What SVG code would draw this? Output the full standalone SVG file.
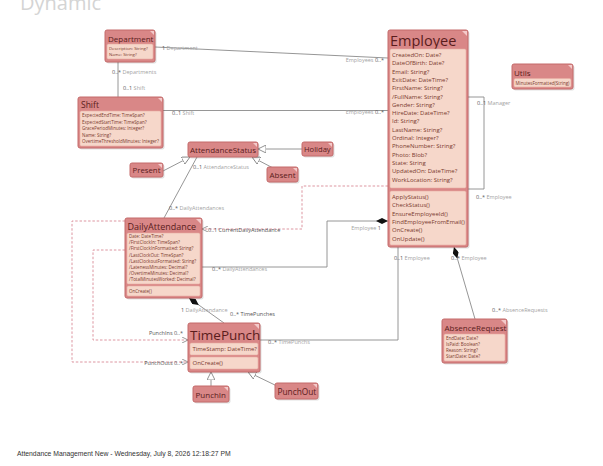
<svg xmlns="http://www.w3.org/2000/svg" width="603" height="466" viewBox="0 0 603 466">
<defs>
<style>
text{font-family:"Open Sans","Noto Sans",sans-serif}
.box{fill:#d98787;stroke:#c46a6a;stroke-width:1}
.sh{fill:#000;opacity:0.12}
.cmp{fill:#f6d7ca;stroke:#e9ada2;stroke-width:0.6}
.fold{fill:#f4caca}
.ttl{fill:#5a1c1c}
.at{fill:#7a3a2e}
.ln{fill:none;stroke:#8a8a8a;stroke-width:0.9}
.dl{fill:none;stroke:#d98a96;stroke-width:0.9;stroke-dasharray:2.5 1.8}
.lbl{font-size:5.5px;fill:#a3a3a3}
.mul{fill:#555}
.dk{font-size:5.5px;fill:#555}
</style>
<marker id="dia" viewBox="0 0 12 6" refX="12" refY="3" markerWidth="12" markerHeight="6" markerUnits="userSpaceOnUse" orient="auto"><path d="M0,3 L6,0 L12,3 L6,6 Z" fill="#111"/></marker>
<marker id="open" viewBox="0 0 8 8" refX="8" refY="4" markerWidth="6" markerHeight="6" markerUnits="userSpaceOnUse" orient="auto"><path d="M0,0 L8,4 L0,8" fill="none" stroke="#777" stroke-width="1"/></marker>
<marker id="tri" viewBox="0 0 10 10" refX="10" refY="5" markerWidth="8" markerHeight="8" markerUnits="userSpaceOnUse" orient="auto"><path d="M0,0 L10,5 L0,10 Z" fill="#fff" stroke="#777" stroke-width="1"/></marker>
</defs>
<rect width="603" height="466" fill="#fff"/>
<text x="20" y="10" font-size="20" fill="#d4d4d4">Dynamic</text>

<g id="connectors">
<path class="ln" d="M155,47 L388,58"/>
<text class="lbl" x="162" y="50"><tspan class="mul">1</tspan> Department</text>
<text class="lbl" x="384" y="62" text-anchor="end">Employees <tspan class="mul">0..*</tspan></text>

<path class="ln" d="M118,62 V97"/>
<text class="lbl" x="112" y="74"><tspan class="mul">0..*</tspan> Departments</text>
<text class="lbl" x="123" y="90"><tspan class="mul">0..1</tspan> Shift</text>

<path class="ln" d="M163,110.5 H388"/>
<text class="lbl" x="172" y="115"><tspan class="mul">0..1</tspan> Shift</text>
<text class="lbl" x="384" y="114" text-anchor="end">Employees <tspan class="mul">0..*</tspan></text>

<path class="ln" d="M468,97 H484 V189 H468"/>
<text class="lbl" x="477" y="105"><tspan class="mul">0..1</tspan> Manager</text>
<text class="lbl" x="476" y="199"><tspan class="mul">0..*</tspan> Employee</text>

<path class="ln" d="M302,149 H258" marker-end="url(#tri)"/>
<path class="ln" d="M163,171 L190,157" marker-end="url(#tri)"/>
<path class="ln" d="M273,168 L252,157" marker-end="url(#tri)"/>

<path class="ln" d="M164,218 L197,157"/>
<text class="lbl" x="169" y="209.5"><tspan class="mul">0..*</tspan> DailyAttendances</text>
<text class="lbl" x="193" y="168.5"><tspan class="mul">0..1</tspan> AttendanceStatus</text>

<path class="dl" d="M388,186 H302 V229 H202" marker-end="url(#open)"/>
<text class="dk" x="208" y="231.5">0..1 CurrentDailyAttendance</text>

<path class="ln" d="M202,267 H327 V221 H388" marker-end="url(#dia)"/>
<text class="lbl" x="381" y="229.5" text-anchor="end">Employee <tspan class="mul">1</tspan></text>
<text class="lbl" x="212" y="271"><tspan class="mul">0..*</tspan> DailyAttendances</text>

<path class="dl" d="M125,221 H72 V362 H188" marker-end="url(#open)"/>
<text class="dk" x="183" y="364.5" text-anchor="end">PunchOuts 0..*</text>
<path class="dl" d="M125,250 H93 V340 H188" marker-end="url(#open)"/>
<text class="dk" x="183" y="335" text-anchor="end">PunchIns 0..*</text>

<path class="ln" d="M224,323 L189,298" marker-end="url(#dia)"/>
<text class="lbl" x="181" y="312"><tspan class="mul">1</tspan> DailyAttendance</text>
<text class="dk" x="230" y="316">0..* TimePunches</text>

<path class="ln" d="M260,340 H398 V247"/>
<text class="lbl" x="268" y="344"><tspan class="mul">0..*</tspan> TimePunchs</text>
<text class="lbl" x="394" y="260"><tspan class="mul">0..1</tspan> Employee</text>

<path class="ln" d="M475,319 L454,247" marker-end="url(#dia)"/>
<text class="lbl" x="451" y="260"><tspan class="mul">0..*</tspan> Employee</text>
<text class="lbl" x="492" y="312"><tspan class="mul">0..*</tspan> AbsenceRequests</text>

<path class="ln" d="M211,386 V372" marker-end="url(#tri)"/>
<path class="ln" d="M277,386 L248,372" marker-end="url(#tri)"/>
</g>

<g id="Department">
<rect class="sh" x="106.5" y="31.5" width="50" height="32" rx="2"/>
<rect class="box" x="105" y="30" width="50" height="32" rx="2"/>
<path class="fold" d="M150,31 H154 V35 Z"/>
<text class="ttl" x="108" y="41.5" font-size="8">Department</text>
<rect class="cmp" x="107" y="44" width="46" height="15" rx="1.5"/>
<text class="at" x="109" y="50" font-size="4.3">Description: String?</text>
<text class="at" x="109" y="56" font-size="4.3">Name: String?</text>
</g>

<g id="Shift">
<rect class="sh" x="79.5" y="98.5" width="85" height="51" rx="2"/>
<rect class="box" x="78" y="97" width="85" height="51" rx="2"/>
<path class="fold" d="M158,98 H162 V102 Z"/>
<text class="ttl" x="81" y="108" font-size="8.5">Shift</text>
<rect class="cmp" x="80" y="111" width="81" height="35" rx="1.5"/>
<text class="at" x="82" y="117" font-size="4.5">ExpectedEndTime: TimeSpan?</text>
<text class="at" x="82" y="123.5" font-size="4.5">ExpectedStartTime: TimeSpan?</text>
<text class="at" x="82" y="130" font-size="4.5">GracePeriodMinutes: Integer?</text>
<text class="at" x="82" y="136.5" font-size="4.5">Name: String?</text>
<text class="at" x="82" y="143" font-size="4.5">OvertimeThresholdMinutes: Integer?</text>
</g>

<g id="Employee">
<rect class="sh" x="389.5" y="31.5" width="80" height="217" rx="2"/>
<rect class="box" x="388" y="30" width="80" height="217" rx="2"/>
<path class="fold" d="M462,31 H467 V36 Z"/>
<text class="ttl" x="390" y="46" font-size="14.5">Employee</text>
<rect class="cmp" x="390" y="49" width="76" height="139" rx="1.5"/>
<g class="at" font-size="6">
<text x="392" y="57">CreatedOn: Date?</text>
<text x="392" y="65.3">DateOfBirth: Date?</text>
<text x="392" y="73.6">Email: String?</text>
<text x="392" y="81.9">ExitDate: DateTime?</text>
<text x="392" y="90.2">FirstName: String?</text>
<text x="392" y="98.5">/FullName: String?</text>
<text x="392" y="106.8">Gender: String?</text>
<text x="392" y="115.1">HireDate: DateTime?</text>
<text x="392" y="123.4">Id: String?</text>
<text x="392" y="131.7">LastName: String?</text>
<text x="392" y="140">Ordinal: Integer?</text>
<text x="392" y="148.3">PhoneNumber: String?</text>
<text x="392" y="156.6">Photo: Blob?</text>
<text x="392" y="164.9">State: String</text>
<text x="392" y="173.2">UpdatedOn: DateTime?</text>
<text x="392" y="181.5">WorkLocation: String?</text>
</g>
<rect class="cmp" x="390" y="191" width="76" height="54" rx="1.5"/>
<g class="at" font-size="6">
<text x="392" y="199">ApplyStatus()</text>
<text x="392" y="207.3">CheckStatus()</text>
<text x="392" y="215.6">EnsureEmployeeId()</text>
<text x="392" y="223.9">FindEmployeeFromEmail()</text>
<text x="392" y="232.2">OnCreate()</text>
<text x="392" y="240.5">OnUpdate()</text>
</g>
</g>

<g id="Utils">
<rect class="sh" x="513.5" y="65.5" width="61" height="25" rx="2"/>
<rect class="box" x="512" y="64" width="61" height="25" rx="2"/>
<path class="fold" d="M568,65 H572 V69 Z"/>
<text class="ttl" x="514" y="75.5" font-size="8">Utils</text>
<rect class="cmp" x="514" y="78.5" width="57" height="8.5" rx="1.5"/>
<text class="at" x="515.5" y="84.5" font-size="4.5">MinutesFormatted(String)</text>
</g>

<g id="AttendanceStatus">
<rect class="sh" x="189.5" y="143.5" width="70" height="15" rx="2"/>
<rect class="box" x="188" y="142" width="70" height="15" rx="2"/>
<path class="fold" d="M253,143 H257 V147 Z"/>
<text class="ttl" x="190" y="152.5" font-size="8">AttendanceStatus</text>
</g>

<g id="Holiday">
<rect class="sh" x="303.5" y="143.5" width="31" height="14" rx="2"/>
<rect class="box" x="302" y="142" width="31" height="14" rx="2"/>
<path class="fold" d="M328,143 H332 V147 Z"/>
<text class="ttl" x="304" y="152" font-size="7.6">Holiday</text>
</g>

<g id="Present">
<rect class="sh" x="131.5" y="164.5" width="33" height="14" rx="2"/>
<rect class="box" x="130" y="163" width="33" height="14" rx="2"/>
<path class="fold" d="M158,164 H162 V168 Z"/>
<text class="ttl" x="132.5" y="173" font-size="7.8">Present</text>
</g>

<g id="Absent">
<rect class="sh" x="268.5" y="168.5" width="31" height="15" rx="2"/>
<rect class="box" x="267" y="167" width="31" height="15" rx="2"/>
<path class="fold" d="M293,168 H297 V172 Z"/>
<text class="ttl" x="269.5" y="177.5" font-size="8">Absent</text>
</g>

<g id="DailyAttendance">
<rect class="sh" x="126.5" y="219.5" width="77" height="80" rx="2"/>
<rect class="box" x="125" y="218" width="77" height="80" rx="2"/>
<path class="fold" d="M196,219 H201 V224 Z"/>
<text class="ttl" x="127.5" y="230" font-size="9">DailyAttendance</text>
<rect class="cmp" x="127" y="233" width="73" height="51" rx="1.5"/>
<g class="at" font-size="4.5">
<text x="129" y="238">Date: DateTime?</text>
<text x="129" y="244.2">/FirstClockIn: TimeSpan?</text>
<text x="129" y="250.4">/FirstClockInFormatted: String?</text>
<text x="129" y="256.6">/LastClockOut: TimeSpan?</text>
<text x="129" y="262.8">/LastClockoutFormatted: String?</text>
<text x="129" y="269">/LatenessMinutes: Decimal?</text>
<text x="129" y="275.2">/OvertimeMinutes: Decimal?</text>
<text x="129" y="281.4">/TotalMinutesWorked: Decimal?</text>
</g>
<rect class="cmp" x="127" y="286" width="73" height="10" rx="1.5"/>
<text class="at" x="129" y="293" font-size="4.5">OnCreate()</text>
</g>

<g id="TimePunch">
<rect class="sh" x="189.5" y="324.5" width="72" height="49" rx="2"/>
<rect class="box" x="188" y="323" width="72" height="49" rx="2"/>
<path class="fold" d="M254,324 H259 V329 Z"/>
<text class="ttl" x="190" y="339.5" font-size="13.5">TimePunch</text>
<rect class="cmp" x="190" y="343" width="68" height="12" rx="1.5"/>
<text class="at" x="192.5" y="351.3" font-size="6">TimeStamp: DateTime?</text>
<rect class="cmp" x="190" y="357" width="68" height="12" rx="1.5"/>
<text class="at" x="192.5" y="365.3" font-size="6">OnCreate()</text>
</g>

<g id="PunchIn">
<rect class="sh" x="194.5" y="387.5" width="36" height="16" rx="2"/>
<rect class="box" x="193" y="386" width="36" height="16" rx="2"/>
<path class="fold" d="M224,387 H228 V391 Z"/>
<text class="ttl" x="195.5" y="397.5" font-size="8">PunchIn</text>
</g>

<g id="PunchOut">
<rect class="sh" x="276.5" y="384.5" width="43" height="16" rx="2"/>
<rect class="box" x="275" y="383" width="43" height="16" rx="2"/>
<path class="fold" d="M313,384 H317 V388 Z"/>
<text class="ttl" x="277.5" y="394.5" font-size="8.3">PunchOut</text>
</g>

<g id="AbsenceRequest">
<rect class="sh" x="443.5" y="320.5" width="65" height="44" rx="2"/>
<rect class="box" x="442" y="319" width="65" height="44" rx="2"/>
<path class="fold" d="M501,320 H506 V325 Z"/>
<text class="ttl" x="444.5" y="331" font-size="8">AbsenceRequest</text>
<rect class="cmp" x="444" y="334" width="61" height="27" rx="1.5"/>
<g class="at" font-size="4.5">
<text x="446" y="339.5">EndDate: Date?</text>
<text x="446" y="345.5">IsPaid: Boolean?</text>
<text x="446" y="351.5">Reason: String?</text>
<text x="446" y="357.5">StartDate: Date?</text>
</g>
</g>

<text x="17" y="456" font-size="6.8" fill="#333" style="font-family:'Liberation Sans',Arial,sans-serif">Attendance Management New - Wednesday, July 8, 2026 12:18:27 PM</text>
</svg>
